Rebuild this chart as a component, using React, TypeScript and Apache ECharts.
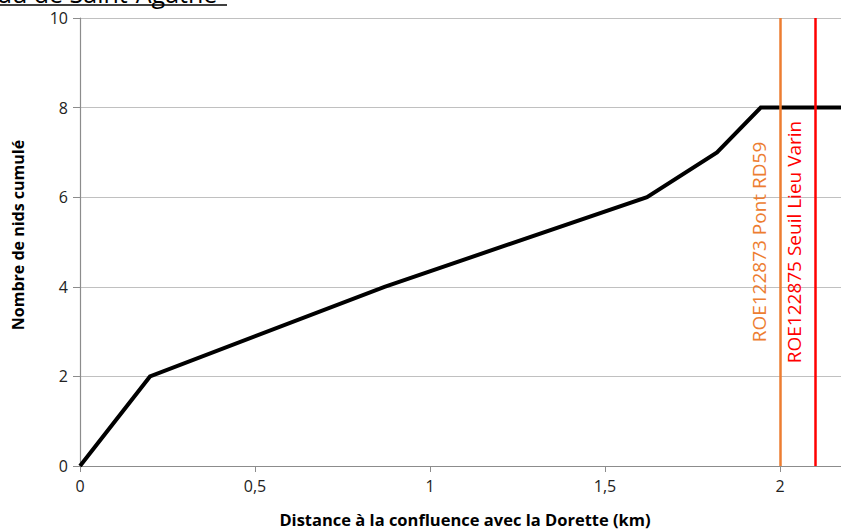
import React, { useEffect, useRef } from "react";
import * as echarts from "echarts";

const distanceKm = [0, 0.2, 0.87, 1.62, 1.82, 1.945, 2.2];
const cumulativeNests = [0, 2, 4, 6, 7, 8, 8];
const barrierPositions = [2.0, 2.1];
const barrierLabels = ["ROE122873 Pont RD59", "ROE122875 Seuil Lieu Varin"];
const barrierColors = ["#ED7D31", "#FF0000"];
const titleText = "au de Saint-Agathe";
const xAxisTitle = "Distance à la confluence avec la Dorette (km)";
const yAxisTitle = "Nombre de nids cumulé";

const FONT = "'Open Sans', 'Liberation Sans', sans-serif";

export default function App() {
  const ref = useRef<HTMLDivElement>(null);
  useEffect(() => {
    if (!ref.current) return;
    const chart = echarts.init(ref.current, undefined, { renderer: "svg" });
    const lineData = distanceKm.map((x, i) => [x, cumulativeNests[i]]);
    const markData = barrierPositions.map((x, i) => [
      {
        coord: [x, 0],
        lineStyle: { color: barrierColors[i], width: 2.5, type: "solid" },
        label: {
          show: true,
          formatter: barrierLabels[i],
          position: "insideMiddleTop",
          distance: 12,
          color: barrierColors[i],
          fontSize: 19,
          fontFamily: FONT,
        },
      },
      { coord: [x, 10] },
    ]);
    chart.setOption({
      animation: false,
      backgroundColor: "#ffffff",
      grid: {
        left: 80,
        top: 18,
        width: 770,
        height: 448,
        containLabel: false,
        outerBoundsMode: "none",
      },
      graphic: [
        {
          type: "text",
          style: {
            x: -2,
            y: 5,
            text: titleText,
            fontSize: 25,
            fontFamily: FONT,
            fill: "#000",
            verticalAlign: "bottom",
          },
        },
        {
          type: "line",
          shape: { x1: 0, y1: 5, x2: 227, y2: 5 },
          style: { stroke: "#000", lineWidth: 1.5 },
        },
      ],
      xAxis: {
        type: "value",
        min: 0,
        max: 2.2,
        interval: 0.5,
        name: xAxisTitle,
        nameLocation: "middle",
        nameGap: 45,
        nameTextStyle: { fontSize: 16.5, fontWeight: "bold", color: "#000", fontFamily: FONT },
        axisLine: { show: true, lineStyle: { color: "#8c8c8c", width: 1.2 } },
        axisTick: { show: true, length: 6, lineStyle: { color: "#8c8c8c" } },
        splitLine: { show: false },
        axisLabel: {
          fontSize: 16,
          color: "#222",
          fontFamily: FONT,
          margin: 12,
          showMaxLabel: false,
          formatter: (v: number) => String(v).replace(".", ","),
        },
      },
      yAxis: {
        type: "value",
        min: 0,
        max: 10,
        interval: 2,
        name: yAxisTitle,
        nameLocation: "middle",
        nameGap: 54,
        nameTextStyle: {
          fontSize: 16,
          fontWeight: "bold",
          color: "#000",
          fontFamily: FONT,
          padding: [0, 0, 0, 14],
        },
        axisLine: { show: true, lineStyle: { color: "#8c8c8c", width: 1.2 } },
        axisTick: { show: true, length: 7, lineStyle: { color: "#8c8c8c" } },
        splitLine: { show: true, lineStyle: { color: "#c0c0c0", width: 1 } },
        axisLabel: { fontSize: 16, color: "#222", fontFamily: FONT, margin: 12 },
      },
      series: [
        {
          type: "line",
          data: lineData,
          showSymbol: false,
          symbol: "none",
          lineStyle: { color: "#000", width: 4, join: "miter" },
          z: 3,
          markLine: {
            silent: true,
            symbol: ["none", "none"],
            animation: false,
            data: markData,
          },
        },
      ],
    });
    return () => chart.dispose();
  }, []);
  return (
    <div
      ref={ref}
      style={{ position: "fixed", left: 0, top: 0, width: 841, height: 531 }}
    />
  );
}
